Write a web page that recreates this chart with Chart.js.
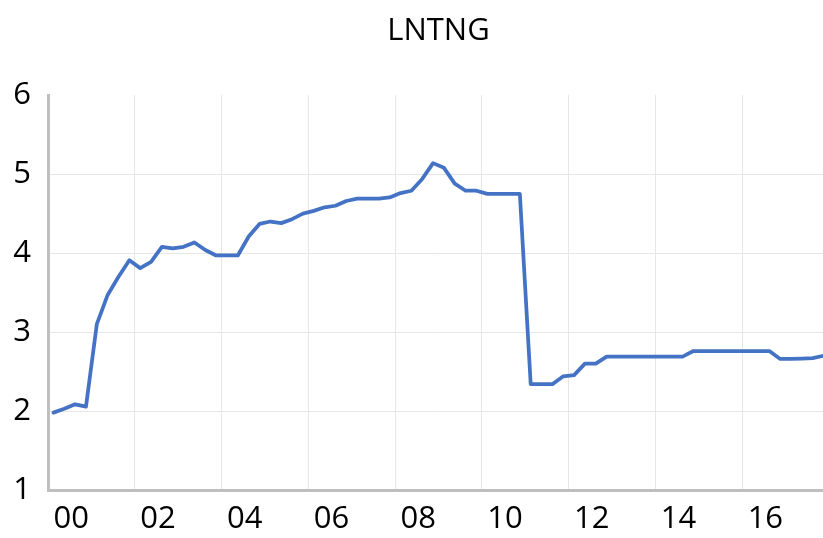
<!DOCTYPE html>
<html>
<head>
<meta charset="utf-8">
<script src="https://cdn.jsdelivr.net/npm/chart.js@4.4.1/dist/chart.umd.min.js"></script>
<style>
  html, body { margin: 0; padding: 0; overflow: hidden; background: #fff; width: 823px; height: 538px; }
  #wrap { position: absolute; left: 0; top: 0; width: 877px; height: 538px; }
</style>
</head>
<body>
<div id="wrap"><canvas id="chart" width="877" height="538"></canvas></div>
<script>
// quarterly series, 2000Q1 .. 2017Q4
var years = [];
for (var y = 2000; y <= 2017; y++) years.push(y);
var quarters = [];
years.forEach(function (yr) { for (var q = 1; q <= 4; q++) quarters.push(yr + 'Q' + q); });

var lntng = [
  1.98, 2.03, 2.085, 2.055, 3.10, 3.47, 3.70, 3.91,
  3.81, 3.89, 4.08, 4.06, 4.08, 4.135, 4.04, 3.97,
  3.97, 3.97, 4.21, 4.37, 4.40, 4.38, 4.43, 4.50,
  4.535, 4.58, 4.60, 4.66, 4.69, 4.69, 4.69, 4.705,
  4.76, 4.79, 4.94, 5.14, 5.08, 4.88, 4.79, 4.79,
  4.75, 4.75, 4.75, 4.75, 2.34, 2.34, 2.34, 2.44,
  2.455, 2.60, 2.60, 2.69, 2.69, 2.69, 2.69, 2.69,
  2.69, 2.69, 2.69, 2.76, 2.76, 2.76, 2.76, 2.76,
  2.76, 2.76, 2.76, 2.66, 2.66, 2.665, 2.67, 2.70
];

var yTicks = [1, 2, 3, 4, 5, 6];
var titleText = 'LNTNG';

var FONT = "'Open Sans', sans-serif";
var GRID = '#E6E6E6';
var AXIS = '#BFBFBF';

new Chart(document.getElementById('chart').getContext('2d'), {
  type: 'line',
  data: {
    labels: quarters,
    datasets: [{
      data: lntng,
      borderColor: '#4472C4',
      borderWidth: 3.75,
      pointRadius: 0,
      tension: 0,
      fill: false,
      borderJoinStyle: 'round',
      borderCapStyle: 'round'
    }]
  },
  options: {
    responsive: false,
    animation: false,
    devicePixelRatio: 1,
    layout: { padding: 0 },
    plugins: {
      legend: { display: false },
      tooltip: { enabled: false },
      title: {
        display: true,
        text: titleText,
        color: '#000',
        font: { family: FONT, size: 31, weight: 'normal' },
        padding: { top: 13, bottom: 45 }
      }
    },
    scales: {
      x: {
        type: 'category',
        offset: true,
        grid: {
          offset: true,
          drawTicks: false,
          lineWidth: 1,
          color: function (c) { return c.index % 8 === 0 ? GRID : 'rgba(0,0,0,0)'; }
        },
        border: { color: AXIS, width: 3 },
        ticks: {
          autoSkip: false,
          maxRotation: 0,
          minRotation: 0,
          align: 'start',
          padding: 11,
          color: '#000',
          font: { family: FONT, size: 31 },
          callback: function (v, i) {
            return i % 8 === 0 ? quarters[i].slice(2, 4) : '';
          }
        },
        afterFit: function (s) { s.height = 48; }
      },
      y: {
        min: yTicks[0],
        max: yTicks[yTicks.length - 1],
        grid: {
          drawTicks: false,
          lineWidth: 1,
          color: function (c) { return (c.tick && c.tick.value === 6) ? 'rgba(0,0,0,0)' : GRID; }
        },
        border: { color: AXIS, width: 3 },
        ticks: {
          stepSize: 1,
          padding: 17,
          color: '#000',
          font: { family: FONT, size: 31 }
        },
        afterFit: function (s) { s.width = 48; }
      },
      // empty right-hand strip so the plot stops short of the canvas edge
      yPad: {
        position: 'right',
        display: true,
        grid: { display: false },
        border: { display: false },
        ticks: { display: false },
        afterFit: function (s) { s.width = 48; }
      }
    }
  }
});
</script>
</body>
</html>
